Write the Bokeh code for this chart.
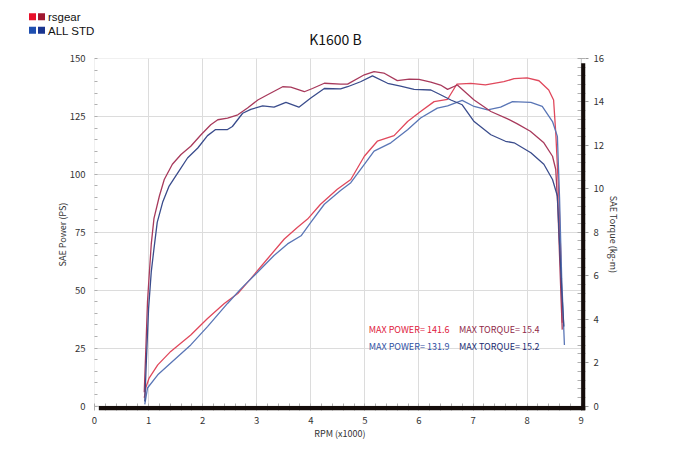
from bokeh.plotting import figure
from bokeh.layouts import column
from bokeh.models import Range1d, LinearAxis, FixedTicker, BoxAnnotation, Label
from bokeh.embed import file_html
from bokeh.resources import INLINE

# ---------------- data ----------------
title_text = "K1600 B"
series_names = ["rsgear", "ALL STD"]

rs_power_rpm = [0.92, 0.95, 1.01, 1.17, 1.41, 1.78, 2.09, 2.40, 2.65, 2.89, 3.20, 3.51, 3.75, 3.94,
                4.18, 4.49, 4.74, 4.99, 5.23, 5.54, 5.79, 6.03, 6.28, 6.53, 6.70, 6.96, 7.23, 7.57,
                7.76, 8.00, 8.22, 8.40, 8.49, 8.53, 8.59, 8.63, 8.65]
rs_power = [3.6, 8.0, 12.1, 17.8, 23.6, 30.7, 37.8, 44.3, 48.6, 55.0, 63.6, 72.1, 77.1, 80.7,
            87.1, 93.6, 97.8, 107.8, 114.3, 116.7, 122.8, 127.1, 131.4, 132.4, 138.9, 139.3, 138.6, 140.0,
            141.3, 141.6, 140.4, 136.4, 132.1, 117.9, 89.3, 60.0, 36.0]

std_power_rpm = [0.93, 0.98, 1.17, 1.41, 1.78, 2.09, 2.46, 2.71, 3.02, 3.32, 3.57, 3.82, 4.00, 4.25,
                 4.55, 4.74, 4.99, 5.17, 5.48, 5.79, 6.03, 6.34, 6.53, 6.80, 7.02, 7.27, 7.51, 7.73,
                 8.07, 8.28, 8.47, 8.56, 8.60, 8.64, 8.69]
std_power = [0.7, 7.8, 13.5, 18.6, 26.4, 34.3, 44.3, 50.7, 57.9, 65.0, 70.0, 73.5, 79.3, 87.1,
             93.0, 96.4, 104.3, 110.0, 113.6, 119.3, 124.3, 128.6, 129.6, 131.9, 129.3, 127.8, 129.0, 131.4,
             131.1, 129.3, 122.8, 116.4, 90.0, 55.0, 26.4]

# torque in kgf-m (right axis)
rs_torque_rpm = [0.92, 0.95, 0.98, 1.01, 1.05, 1.10, 1.20, 1.29, 1.44, 1.60, 1.78, 1.97, 2.15, 2.28,
                 2.46, 2.65, 2.83, 3.02, 3.20, 3.48, 3.63, 3.88, 4.03, 4.25, 4.55, 4.68, 4.99, 5.17,
                 5.35, 5.60, 5.82, 6.00, 6.22, 6.40, 6.53, 6.71, 7.02, 7.33, 7.64, 7.82, 8.06, 8.31,
                 8.47, 8.53, 8.57, 8.60, 8.63, 8.65]
rs_torque = [0.64, 2.67, 4.80, 5.97, 7.47, 8.64, 9.67, 10.43, 11.13, 11.58, 11.96, 12.49, 12.95, 13.18,
             13.26, 13.41, 13.72, 14.09, 14.33, 14.70, 14.68, 14.47, 14.62, 14.86, 14.82, 14.82, 15.25, 15.40,
             15.33, 14.98, 15.05, 15.04, 14.91, 14.78, 14.58, 14.78, 14.09, 13.56, 13.22, 12.99, 12.65, 12.12,
             11.50, 10.89, 9.07, 6.93, 4.80, 3.52]

std_torque_rpm = [0.93, 0.96, 1.00, 1.05, 1.10, 1.16, 1.26, 1.38, 1.54, 1.72, 1.91, 2.09, 2.24, 2.46,
                  2.55, 2.74, 2.89, 3.11, 3.32, 3.54, 3.78, 4.00, 4.25, 4.55, 4.68, 4.92, 5.14, 5.42,
                  5.66, 5.91, 6.22, 6.40, 6.59, 6.80, 7.02, 7.33, 7.60, 7.76, 8.07, 8.31, 8.47, 8.56,
                  8.60, 8.64, 8.68]
std_torque = [0.21, 2.13, 4.48, 6.19, 7.25, 8.46, 9.38, 10.13, 10.74, 11.42, 11.88, 12.45, 12.73, 12.73,
              12.87, 13.48, 13.66, 13.82, 13.76, 13.98, 13.76, 14.18, 14.62, 14.60, 14.70, 14.93, 15.20, 14.86,
              14.73, 14.58, 14.55, 14.33, 14.09, 13.87, 13.10, 12.49, 12.19, 12.12, 11.66, 11.13, 10.43, 9.67,
              7.47, 5.33, 3.66]

max_text = [["MAX POWER= 141.6", "MAX TORQUE= 15.4"],
            ["MAX POWER= 131.9", "MAX TORQUE= 15.2"]]

x_ticks = [0, 1, 2, 3, 4, 5, 6, 7, 8, 9]
x_minor = [i / 5 for i in range(0, 46)]
power_ticks = [0, 25, 50, 75, 100, 125, 150]
power_minor = [i * 5 for i in range(0, 31)]
torque_ticks = [0, 2, 4, 6, 8, 10, 12, 14, 16]
torque_minor = [i * 0.4 for i in range(0, 41)]

# ---------------- styling ----------------
FONT = "Noto Sans CJK JP"
RS_POW = "#e0485c"
RS_TQ = "#a83a5c"
STD_POW = "#5a76b6"
STD_TQ = "#3a4c8c"
GRID = "#dcdcdc"
FRAME = "#9a9a9a"
W = 672
HEAD_H = 50

# ---------------- header: title + legend ----------------
head = figure(width=W, height=HEAD_H, x_range=Range1d(0, W), y_range=Range1d(HEAD_H, 0),
              output_backend="svg", toolbar_location=None,
              x_axis_type=None, y_axis_type=None, min_border=0)
head.frame_align = False
head.outline_line_color = None
head.xgrid.visible = False
head.ygrid.visible = False
head.add_layout(Label(x=335, y=38, text=title_text, text_font=FONT, text_font_size="14px",
                      text_color="#111111", text_align="center", text_baseline="middle"))
leg_colors = [["#e8102a", "#a01830"], ["#1f4fb0", "#1a3590"]]
leg_y = [16.3, 29.8]
leg_sq_x = [32, 41]
for i, name in enumerate(series_names):
    head.scatter(leg_sq_x, [leg_y[i]] * 2, marker="square", size=7,
                 fill_color=leg_colors[i], line_color=None)
    head.add_layout(Label(x=47.5, y=leg_y[i] + 0.3, text=name, text_font="Liberation Sans",
                          text_font_size="11.5px", text_color="#111111",
                          text_align="left", text_baseline="middle"))

# ---------------- main chart ----------------
X_END = 9.08          # frame extends a little for the drop shadow
Y_START = -1.9
T_START = Y_START * 16 / 150

p = figure(width=W, height=392,
           x_range=Range1d(0, X_END), y_range=Range1d(Y_START, 150),
           output_backend="svg", toolbar_location=None,
           min_border_left=94, min_border_right=87, min_border_top=8, min_border_bottom=30)
p.frame_align = False
p.extra_y_ranges = {"torque": Range1d(T_START, 16)}
p.outline_line_color = None

xa = p.xaxis[0]
xa.ticker = FixedTicker(ticks=x_ticks, minor_ticks=x_minor)
xa.axis_label = "RPM (x1000)"
ya = p.yaxis[0]
ya.ticker = FixedTicker(ticks=power_ticks, minor_ticks=power_minor)
ya.axis_label = "SAE Power (PS)"
ra = LinearAxis(y_range_name="torque", axis_label="SAE Torque (kg-m)",
                ticker=FixedTicker(ticks=torque_ticks, minor_ticks=torque_minor))
p.add_layout(ra, "right")

for ax in (xa, ya, ra):
    ax.axis_line_color = None
    ax.major_label_text_font = FONT
    ax.major_label_text_font_size = "9.5px"
    ax.major_label_text_color = "#333333"
    ax.axis_label_text_font = FONT
    ax.axis_label_text_font_size = "9px"
    ax.axis_label_text_font_style = "normal"
    ax.axis_label_text_color = "#333333"
    ax.major_tick_line_color = FRAME
    ax.minor_tick_line_color = "#b0b0b0"

xa.major_tick_in = 0
xa.major_tick_out = 0
xa.minor_tick_in = 7
xa.minor_tick_out = 0
xa.major_label_standoff = 6
xa.axis_label_standoff = 0

ya.major_tick_in = 0
ya.major_tick_out = 0
ya.minor_tick_in = 3
ya.minor_tick_out = 0
ya.major_label_standoff = 9
ya.axis_label_standoff = -2

ra.major_tick_in = 0
ra.major_tick_out = 3
ra.minor_tick_in = 8
ra.minor_tick_out = 0
ra.major_label_standoff = 5
ra.axis_label_standoff = 0

p.xgrid.ticker = FixedTicker(ticks=x_ticks)
p.ygrid.ticker = FixedTicker(ticks=power_ticks)
p.xgrid.grid_line_color = GRID
p.ygrid.grid_line_color = GRID

p.line(rs_power_rpm, rs_power, line_color=RS_POW, line_width=1.3)
p.line(std_power_rpm, std_power, line_color=STD_POW, line_width=1.3)
p.line(rs_torque_rpm, rs_torque, line_color=RS_TQ, line_width=1.3, y_range_name="torque")
p.line(std_torque_rpm, std_torque, line_color=STD_TQ, line_width=1.3, y_range_name="torque")

# frame and drop shadow
p.add_layout(BoxAnnotation(left=0, right=9, bottom=0, top=150, fill_color=None,
                           line_color=FRAME, line_width=1))
p.add_layout(BoxAnnotation(left=0.08, right=X_END, bottom=Y_START, top=0,
                           fill_color="#140c0a", fill_alpha=1, line_color=None))
p.add_layout(BoxAnnotation(left=9, right=X_END, bottom=Y_START, top=148,
                           fill_color="#140c0a", fill_alpha=1, line_color=None))

note_colors = [["#e0203c", "#902848"], ["#3050a4", "#222c72"]]
note_y = [33.1, 25.8]
note_x = [5.07, 6.74]
for r in range(2):
    for c in range(2):
        p.add_layout(Label(x=note_x[c], y=note_y[r], text=max_text[r][c],
                           text_font=FONT, text_font_size="9px",
                           text_color=note_colors[r][c], text_baseline="middle"))

layout = column(head, p, spacing=0)
open("out.html", "w").write(file_html(layout, INLINE))
